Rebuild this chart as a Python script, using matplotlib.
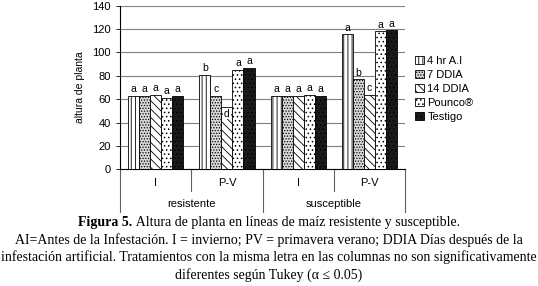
import matplotlib.pyplot as plt
import numpy as np

plt.rcParams['font.family'] = ['Liberation Sans', 'DejaVu Sans']
plt.rcParams['hatch.linewidth'] = 0.6

groups = ["I", "P-V", "I", "P-V"]
lines = ["resistente", "susceptible"]
series = ["4 hr A.I", "7 DDIA", "14 DDIA", "Pounco®", "Testigo"]

h_4hr = [63, 81, 63, 115.5]
h_7ddia = [63, 63, 63, 77]
h_14ddia = [63.5, 53, 63, 64]
h_pounco = [61, 85, 64, 118]
h_testigo = [63, 87, 63, 119]

let_4hr = ["a", "b", "a", "a"]
let_7ddia = ["a", "c", "a", "b"]
let_14ddia = ["a", "d", "a", "c"]
let_pounco = ["a", "a", "a", "a"]
let_testigo = ["a", "a", "a", "a"]

values = [h_4hr, h_7ddia, h_14ddia, h_pounco, h_testigo]
letters = [let_4hr, let_7ddia, let_14ddia, let_pounco, let_testigo]
hatches = ["||||", "......", "\\\\\\\\", "....", "...."]
faces = ["white", "#d8d8d8", "white", "white", "#1a1a1a"]

fig = plt.figure(figsize=(5.38, 2.86), dpi=100)
ax = fig.add_axes([0.223, 0.408, 0.53, 0.572])

x = np.arange(len(groups)) + 0.5
w = 0.155
for i, (vals, lets) in enumerate(zip(values, letters)):
    pos = x + (i - 2) * w
    ax.bar(pos, vals, w, color=faces[i], edgecolor="black", hatch=hatches[i],
           linewidth=0.6, label=series[i], zorder=3)
    for p, v, l in zip(pos, vals, lets):
        if l == "d":
            ax.text(p, v - 1, l, ha="center", va="top", fontsize=7.5, zorder=4,
                    bbox=dict(facecolor="white", edgecolor="none", pad=0.5))
        else:
            ax.text(p, v + 1.5, l, ha="center", va="bottom", fontsize=7.5, zorder=4)

ax.set_xlim(0, 4)
ax.set_ylim(0, 140)
ax.set_yticks(range(0, 141, 20))
ax.tick_params(axis="y", labelsize=8, length=3, width=0.6)
ax.set_xticks([])
ax.grid(axis="y", color="#808080", linewidth=0.8, zorder=0)
for s in ["top", "right"]:
    ax.spines[s].set_visible(False)
ax.spines["left"].set_linewidth(0.8)
ax.spines["bottom"].set_linewidth(0.8)
ax.set_ylabel("altura de planta", fontsize=7.5, labelpad=5)

# two-level category axis
tr = ax.get_xaxis_transform()
for xv, depth in [(0, -0.26), (1, -0.13), (2, -0.26), (3, -0.13), (4, -0.26)]:
    ax.plot([xv, xv], [0, depth], transform=tr, color="#606060", lw=0.8, clip_on=False)
for xc, g in zip(x, groups):
    ax.text(xc, -0.085, g, transform=tr, ha="center", va="center", fontsize=8)
for k, name in enumerate(lines):
    ax.text(2 * k + 1, -0.215, name, transform=tr, ha="center", va="center", fontsize=8)

ax.legend(loc="upper left", bbox_to_anchor=(1.02, 0.72), frameon=False, fontsize=8,
          handlelength=0.8, handleheight=0.8, handletextpad=0.3, labelspacing=0.35,
          borderaxespad=0)

# caption, first line with bold lead
serif = ["Liberation Serif"]
r = fig.canvas.get_renderer()
t1 = fig.text(0, 0.222, "Figura 5.", ha="left", va="center", fontsize=10,
              family=serif, fontweight="bold")
t2 = fig.text(0, 0.222, " Altura de planta en líneas de maíz resistente y susceptible.",
              ha="left", va="center", fontsize=10, family=serif)
w1 = t1.get_window_extent(r).width / fig.bbox.width
w2 = t2.get_window_extent(r).width / fig.bbox.width
x0 = 0.5 - (w1 + w2) / 2
t1.set_x(x0)
t2.set_x(x0 + w1)

cap = dict(ha="center", va="center", fontsize=10, family=serif)
fig.text(0.5, 0.16, "AI=Antes de la Infestación. I = invierno; PV = primavera verano; DDIA Días después de la", **cap)
fig.text(0.5, 0.1, "infestación artificial. Tratamientos con la misma letra en las columnas no son significativamente", **cap)
fig.text(0.5, 0.04, "diferentes según Tukey (α ≤ 0.05)", **cap)

fig.savefig("out.png", dpi=100)
